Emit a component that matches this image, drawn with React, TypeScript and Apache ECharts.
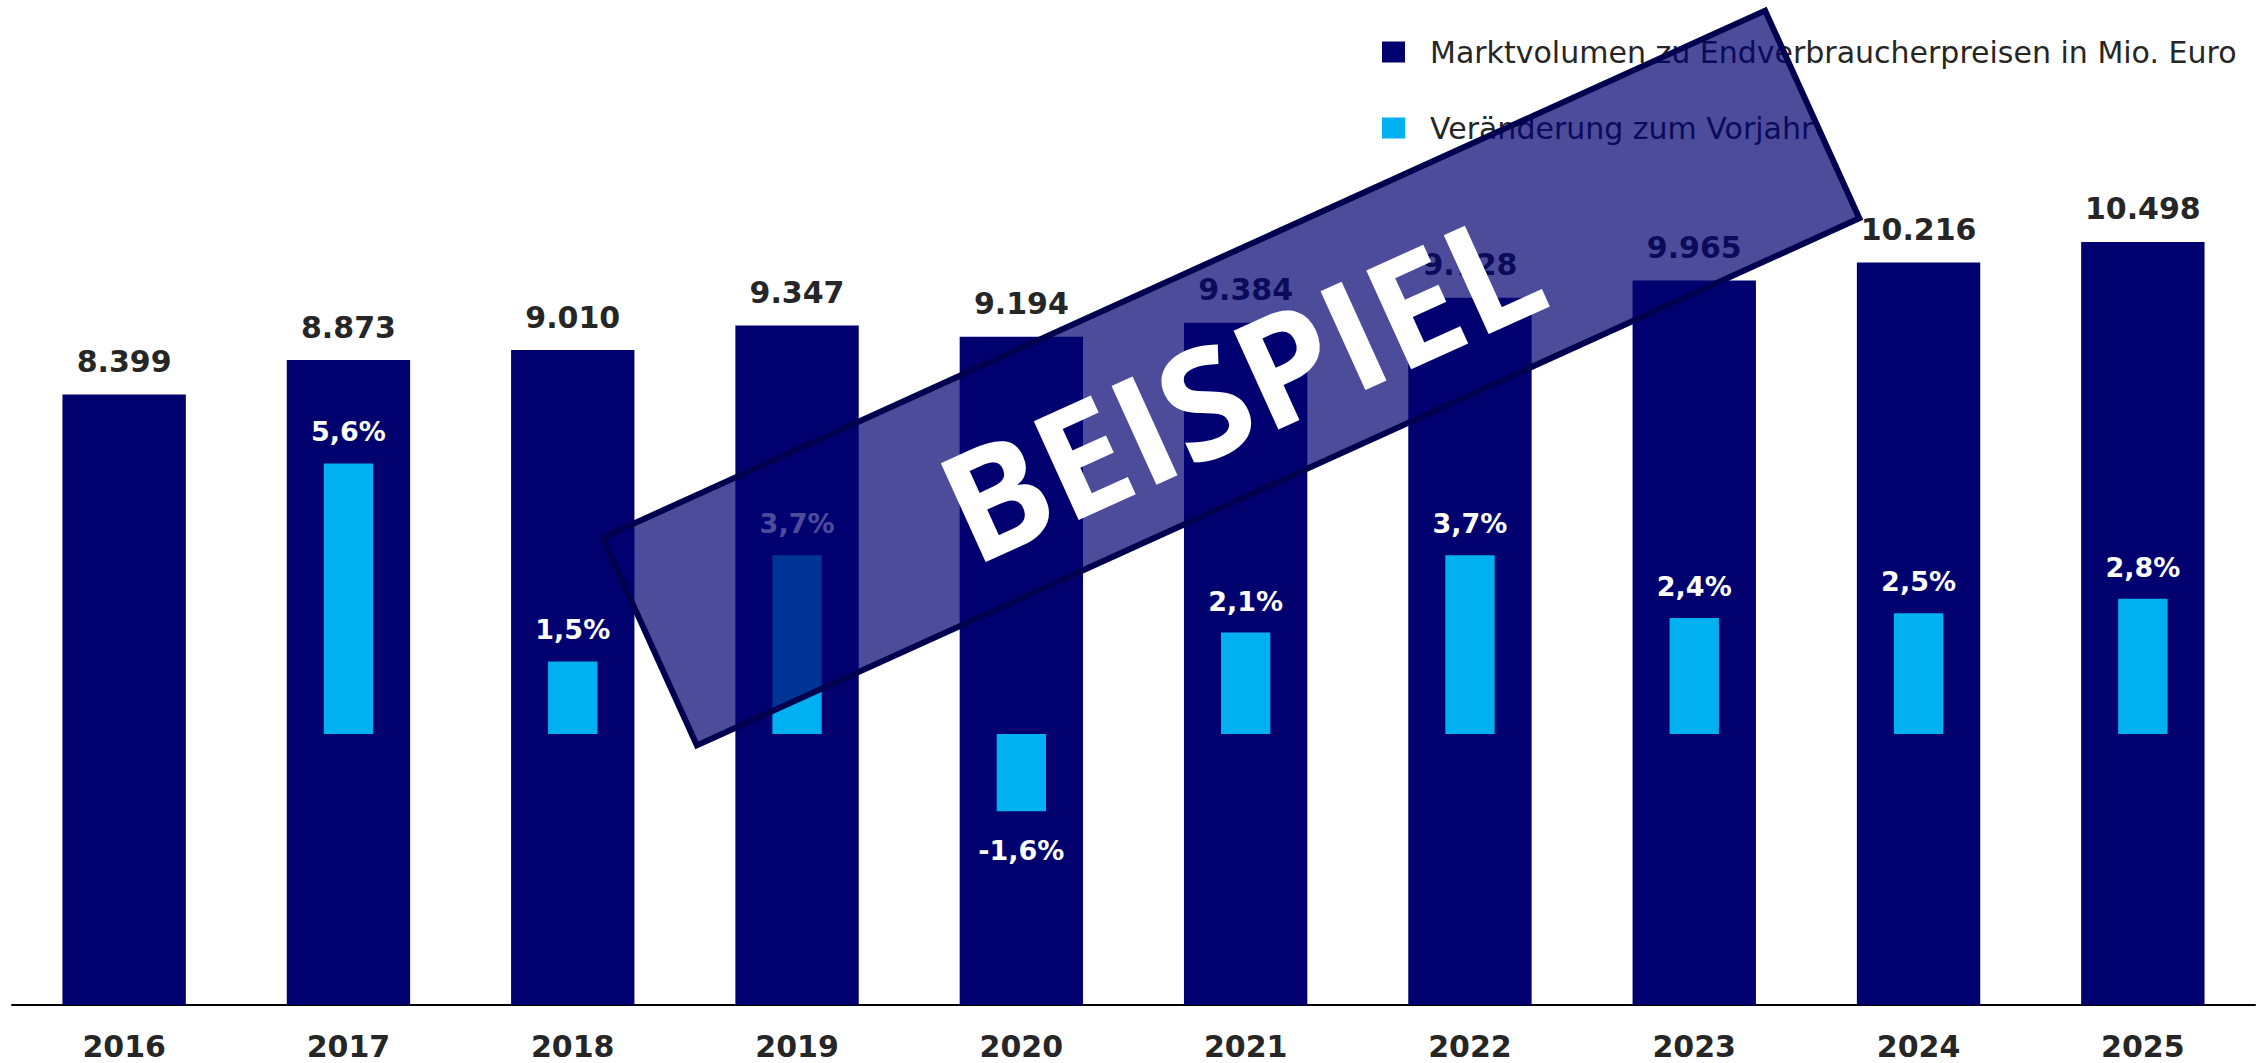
import React, { useEffect, useRef } from "react";
import * as echarts from "echarts";

const years = ["2016", "2017", "2018", "2019", "2020", "2021", "2022", "2023", "2024", "2025"];
const marketVolume = [8399, 8873, 9010, 9347, 9194, 9384, 9728, 9965, 10216, 10498];
const changePct: (number | null)[] = [null, 5.6, 1.5, 3.7, -1.6, 2.1, 3.7, 2.4, 2.5, 2.8];
const legendNames = ["Marktvolumen zu Endverbraucherpreisen in Mio. Euro", "Veränderung zum Vorjahr"];
const stampText = "BEISPIEL";

const NAVY = "#00006f";
const CYAN = "#00b0f0";
const TEXT = "#262626";

function fmtThousands(v: number): string {
  const s = Math.round(v).toString();
  return s.replace(/\B(?=(\d{3})+(?!\d))/g, ".");
}
function fmtPct(v: number): string {
  return v.toFixed(1).replace(".", ",") + "%";
}

export default function App() {
  const ref = useRef<HTMLDivElement>(null);
  useEffect(() => {
    if (!ref.current) return;
    const chart = echarts.init(ref.current, null, { renderer: "svg" });
    const pctData = changePct.map((v) =>
      v === null ? "-" : v < 0 ? { value: v, label: { position: "bottom", distance: 26 } } : v
    );
    chart.setOption({
      animation: false,
      backgroundColor: "#ffffff",
      textStyle: { fontFamily: "DejaVu Sans" },
      legend: {
        orient: "vertical",
        left: 1377,
        top: 31,
        itemWidth: 23,
        itemHeight: 21,
        itemGap: 44,
        icon: "rect",
        data: legendNames,
        textStyle: {
          fontFamily: "DejaVu Sans",
          fontSize: 30,
          color: TEXT,
          lineHeight: 32,
          padding: [0, 0, 0, 20],
        },
      },
      grid: { left: 12, right: 3, top: 60, bottom: 58, containLabel: false },
      xAxis: [
        {
          type: "category",
          data: years,
          axisLine: { lineStyle: { color: "#000", width: 2 } },
          axisTick: { show: false },
          axisLabel: { color: TEXT, fontWeight: "bold", fontSize: 30, margin: 26, fontFamily: "DejaVu Sans" },
        },
        { type: "category", data: years, show: false },
      ],
      yAxis: [
        { type: "value", min: 0, max: 13000, show: false, splitLine: { show: false } },
        { type: "value", min: -5.61, max: 13.95, show: false, splitLine: { show: false } },
      ],
      series: [
        {
          name: legendNames[0],
          type: "bar",
          xAxisIndex: 0,
          yAxisIndex: 0,
          data: marketVolume,
          barWidth: "55%",
          itemStyle: { color: NAVY },
          label: {
            show: true,
            position: "top",
            distance: 18,
            color: TEXT,
            fontWeight: "bold",
            fontSize: 30,
            fontFamily: "DejaVu Sans",
            formatter: (p: any) => fmtThousands(p.value),
          },
          z: 2,
        },
        {
          name: legendNames[1],
          type: "bar",
          xAxisIndex: 1,
          yAxisIndex: 1,
          data: pctData,
          barWidth: "22%",
          itemStyle: { color: CYAN },
          label: {
            show: true,
            position: "top",
            distance: 18,
            color: "#ffffff",
            fontWeight: "bold",
            fontSize: 27,
            fontFamily: "DejaVu Sans",
            formatter: (p: any) => fmtPct(typeof p.value === "number" ? p.value : Number(p.value)),
          },
          z: 3,
        },
      ],
      graphic: [
        {
          type: "group",
          x: 1231,
          y: 378,
          rotation: 0.426,
          z: 100,
          children: [
            {
              type: "rect",
              z: 100,
              shape: { x: -638, y: -114, width: 1276, height: 228 },
              style: { fill: "rgba(0,0,112,0.7)", stroke: "#00004f", lineWidth: 6 },
            },
            {
              type: "text",
              z: 101,
              x: 6,
              y: 8,
              style: {
                text: stampText,
                fill: "#ffffff",
                fontSize: 152,
                fontWeight: "bold",
                fontFamily: "Open Sans",
                align: "center",
                verticalAlign: "middle",
              },
            },
          ],
        },
      ],
    });
    return () => chart.dispose();
  }, []);
  return <div ref={ref} style={{ position: "fixed", left: 0, top: 0, width: 2258, height: 1063 }} />;
}
